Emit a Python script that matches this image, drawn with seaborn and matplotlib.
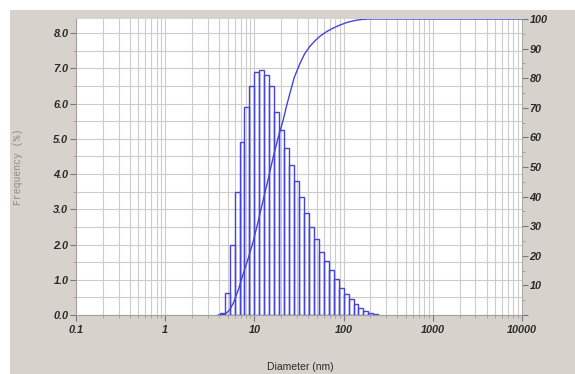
import numpy as np
import pandas as pd
import seaborn as sns
import matplotlib.pyplot as plt
from matplotlib.patches import Rectangle
from matplotlib.ticker import LogLocator, MultipleLocator, NullFormatter, FixedLocator

sns.set_style("white")
plt.rcParams["font.family"] = ["Liberation Sans", "DejaVu Sans"]

# ------------------------------------------------------------
# DATA
# ------------------------------------------------------------
# bin edges in nm (18 bins per decade)
bin_edges = [4.08, 4.64, 5.27, 6.00, 6.81, 7.74, 8.80, 10.0, 11.4, 12.9, 14.7,
             16.7, 19.0, 21.5, 24.5, 27.8, 31.6, 35.9, 40.8, 46.4, 52.7, 59.9,
             68.1, 77.4, 88.0, 100.0, 113.6, 129.2, 146.8, 166.8, 189.6, 215.4, 244.8]
# frequency (%) per bin
frequency = [0.05, 0.62, 2.0, 3.5, 4.9, 5.9, 6.5, 6.9, 6.95, 6.8, 6.5,
             5.75, 5.25, 4.75, 4.25, 3.8, 3.35, 2.9, 2.5, 2.15, 1.8, 1.52,
             1.28, 1.02, 0.78, 0.6, 0.44, 0.3, 0.2, 0.12, 0.07, 0.03]

# cumulative undersize curve (nm, %)
cum_diameter = [3.9, 4.5, 4.93, 5.3, 5.8, 6.6, 7.51, 8.6, 9.72, 11.0, 12.58,
                14.3, 16.29, 18.5, 21.09, 23.0, 25.06, 28.0, 32.45, 36.5, 42.0,
                48.0, 54.4, 65.0, 76.1, 90.0, 108.3, 125.0, 140.0, 164.8,
                200.0, 10000.0]
cum_percent = [0.0, 0.2, 0.8, 1.8, 4.0, 8.5, 14.0, 19.5, 25.0, 31.5, 39.0,
               46.0, 53.5, 60.0, 66.0, 70.8, 75.0, 80.3, 85.0, 88.2, 90.8,
               92.7, 94.2, 95.8, 96.9, 97.9, 98.8, 99.3, 99.6, 99.9,
               100.0, 100.0]

x_ticks = [0.1, 1, 10, 100, 1000, 10000]
x_ticklabels = ["0.1", "1", "10", "100", "1000", "10000"]

blue = "#4444d8"
bg = "#d7d3cc"
grid_c = "#cccccc"
txt_c = "#2a2a2a"

# ------------------------------------------------------------
# PLOT
# ------------------------------------------------------------
fig = plt.figure(figsize=(5.75, 3.74), dpi=100)
fig.patch.set_facecolor("white")
fig.patches.append(Rectangle((10 / 575, 0), 1, 1 - 10 / 374, transform=fig.transFigure,
                             facecolor=bg, edgecolor="none", zorder=-10))

ax = fig.add_axes([76 / 575, 1 - 315 / 374, 446 / 575, 296 / 374])
ax.set_facecolor("white")

edges = np.array(bin_edges)
hist_df = pd.DataFrame({
    "diameter": np.sqrt(edges[:-1] * edges[1:]),
    "frequency": frequency,
})
sns.histplot(data=hist_df, x="diameter", weights="frequency",
             bins=[float(v) for v in np.log10(edges)], log_scale=True,
             fill=False, color=blue, linewidth=1.0, stat="count", ax=ax)

ax.set_xlim(0.1, 10000)
ax.set_ylim(0, 8.4)
ax.set_xlabel("")
ax.set_ylabel("")

ax.xaxis.set_major_locator(FixedLocator(x_ticks))
ax.set_xticklabels(x_ticklabels)
ax.xaxis.set_minor_locator(LogLocator(base=10, subs=np.arange(2, 10)))
ax.xaxis.set_minor_formatter(NullFormatter())
ax.yaxis.set_major_locator(MultipleLocator(1.0))
ax.yaxis.set_minor_locator(MultipleLocator(0.5))
ax.set_yticklabels([f"{v:.1f}" for v in ax.get_yticks()])

ax.set_axisbelow(True)
ax.grid(which="both", color=grid_c, linewidth=0.8)

for lab in ax.get_xticklabels() + ax.get_yticklabels():
    lab.set_fontweight("bold")
    lab.set_fontstyle("italic")
    lab.set_fontsize(7.8)
    lab.set_color(txt_c)

ax.tick_params(which="major", direction="out", length=4, width=0.8, color="#777777", pad=1.5)
ax.tick_params(which="minor", direction="out", length=2, width=0.6, color="#999999")
ax.tick_params(axis="x", which="major", pad=3)
ax.tick_params(axis="y", left=True, right=False)
ax.tick_params(axis="x", bottom=True, top=False, which="both")
ax.tick_params(axis="y", which="minor", left=True, right=False)

for s in ["top", "right"]:
    ax.spines[s].set_visible(False)
ax.spines["left"].set_color("#a0a0a0")
ax.spines["left"].set_linewidth(0.8)
ax.spines["bottom"].set_color("#a0a0a0")
ax.spines["bottom"].set_linewidth(0.8)

# cumulative curve on right axis
ax2 = ax.twinx()
sns.lineplot(x=cum_diameter, y=cum_percent, color=blue, linewidth=1.0, ax=ax2)
ax2.set_ylim(0, 100)
ax2.set_xlim(0.1, 10000)
ax2.yaxis.set_major_locator(MultipleLocator(10))
ax2.yaxis.set_minor_locator(MultipleLocator(5))
ax2.set_yticklabels(["" if v == 0 else f"{v:.0f}" for v in ax2.get_yticks()])
for lab in ax2.get_yticklabels():
    lab.set_fontweight("bold")
    lab.set_fontstyle("italic")
    lab.set_fontsize(7.8)
    lab.set_color(txt_c)
ax2.tick_params(axis="y", which="major", direction="out", length=4, width=0.8,
                color="#777777", pad=1.5, right=True)
ax2.tick_params(axis="y", which="minor", direction="out", length=2, width=0.6,
                color="#999999", right=True)
ax2.set_ylabel("")
ax2.grid(False)
for s in ["top", "left", "bottom"]:
    ax2.spines[s].set_visible(False)
ax2.spines["right"].set_color("#a0a0a0")
ax2.spines["right"].set_linewidth(0.6)

fig.text(18 / 575, 1 - 167 / 374, "Frequency (%)", rotation=90, ha="center", va="center",
         fontsize=7, color="#8a8a8a", family=["Liberation Mono", "DejaVu Sans Mono"])
fig.text(300 / 575, 1 - 367 / 374, "Diameter (nm)", ha="center", va="center",
         fontsize=7.5, color=txt_c)

fig.savefig("out.png", dpi=100)
